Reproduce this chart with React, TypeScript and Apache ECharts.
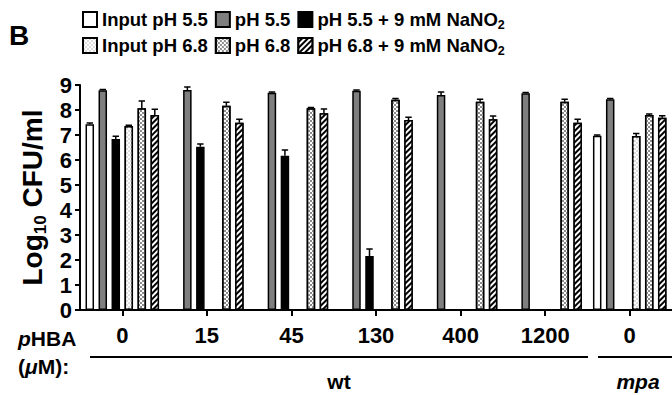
import React, { useEffect, useRef } from 'react';
import * as echarts from 'echarts';

const categories = ['0', '15', '45', '130', '400', '1200', '0'];
const seriesNames = [
  'Input pH 5.5',
  'pH 5.5',
  'pH 5.5 + 9 mM NaNO2',
  'Input pH 6.8',
  'pH 6.8',
  'pH 6.8 + 9 mM NaNO2',
];
const inputPh55 = [7.43, null, null, null, null, null, 6.97];
const ph55 = [8.79, 8.8, 8.69, 8.77, 8.6, 8.67, 8.43];
const ph55Nitrite = [6.84, 6.53, 6.17, 2.16, null, null, null];
const inputPh68 = [7.36, null, null, null, null, null, 6.96];
const ph68 = [8.07, 8.17, 8.07, 8.41, 8.33, 8.33, 7.8];
const ph68Nitrite = [7.8, 7.49, 7.87, 7.6, 7.63, 7.49, 7.69];

const inputPh55Err = [0.05, null, null, null, null, null, 0.03];
const ph55Err = [0.03, 0.12, 0.03, 0.03, 0.12, 0.03, 0.03];
const ph55NitriteErr = [0.11, 0.11, 0.23, 0.28, null, null, null];
const inputPh68Err = [0.03, null, null, null, null, null, 0.1];
const ph68Err = [0.29, 0.14, 0.03, 0.05, 0.1, 0.1, 0.04];
const ph68NitriteErr = [0.23, 0.14, 0.17, 0.11, 0.13, 0.14, 0.08];

const yMin = 0;
const yMax = 9;
const yInterval = 1;

const FONT = "'Liberation Sans', Arial, Helvetica, sans-serif";
const BAR_WIDTH = 8.5;
const BAR_GAP = 0.53;
const STEP = BAR_WIDTH * (1 + BAR_GAP);

const values = [inputPh55, ph55, ph55Nitrite, inputPh68, ph68, ph68Nitrite];
const errors = [inputPh55Err, ph55Err, ph55NitriteErr, inputPh68Err, ph68Err, ph68NitriteErr];

const styles: any[] = [
  { color: '#ffffff' },
  { color: '#7f7f7f' },
  { color: '#000000' },
  {
    color: '#ffffff',
    decal: {
      symbol: 'rect',
      symbolSize: 1,
      color: '#dddddd',
      dashArrayX: [[2, 2], [0, 2, 2, 0]],
      dashArrayY: [2, 0],
    },
  },
  {
    color: '#ffffff',
    decal: {
      symbol: 'rect',
      symbolSize: 1,
      color: '#8c8c8c',
      dashArrayX: [[2, 2], [0, 2, 2, 0]],
      dashArrayY: [2, 0],
    },
  },
  {
    color: '#000000',
    decal: {
      symbol: 'rect',
      symbolSize: 1,
      color: '#ffffff',
      dashArrayX: [1, 0],
      dashArrayY: [1.5, 2],
      rotation: -Math.PI / 4,
    },
  },
];

function makeRich(fs: number, sub: number, lh: number) {
  const base = { fontFamily: FONT, fontWeight: 'bold' as const, color: '#000', fontSize: fs };
  return {
    t: { ...base, lineHeight: lh, verticalAlign: 'middle' },
    s: { ...base, fontSize: sub, lineHeight: lh, verticalAlign: 'bottom' },
    i: { ...base, fontStyle: 'italic', lineHeight: lh, verticalAlign: 'middle' },
  };
}

const AX_FS = 22;
const LEG_FS = 18.5;
const axTxt = { fontFamily: FONT, fontWeight: 'bold' as const, color: '#000', fontSize: AX_FS };
const legendRich = makeRich(LEG_FS, 12.5, 24);
const titleRich = makeRich(28, 17, 32);
const labelRich = makeRich(21, 14, 26);

function legendFormatter(name: string) {
  if (name.endsWith('NaNO2')) return '{t|' + name.slice(0, -1) + '}{s|2}';
  return '{t|' + name + '}';
}

export default function App() {
  const ref = useRef<HTMLDivElement>(null);
  useEffect(() => {
    if (!ref.current) return;
    const chart = echarts.init(ref.current, null, { renderer: 'svg' });

    const errData: number[][] = [];
    values.forEach((vals, s) =>
      vals.forEach((v, i) => {
        const e = errors[s][i];
        if (v != null && e != null) errData.push([i, v as number, e as number, s]);
      })
    );

    const legendBase = {
      left: 77,
      itemWidth: 14,
      itemHeight: 15,
      itemGap: 7,
      icon: 'rect',
      selectedMode: false,
      formatter: legendFormatter,
      textStyle: { fontFamily: FONT, fontWeight: 'bold', fontSize: LEG_FS, color: '#000', rich: legendRich },
    };

    const option: any = {
      animation: false,
      backgroundColor: '#fff',
      grid: { left: 80, top: 85, width: 602, height: 225, containLabel: false },
      legend: [
        { ...legendBase, top: 5, data: seriesNames.slice(0, 3) },
        { ...legendBase, top: 31, data: seriesNames.slice(3) },
      ],
      xAxis: {
        type: 'category',
        data: categories,
        axisLine: { show: true, lineStyle: { color: '#000', width: 2 } },
        axisTick: { show: true, alignWithLabel: true, length: 6, lineStyle: { color: '#000', width: 2 } },
        axisLabel: { interval: 0, margin: 14, ...axTxt },
        splitLine: { show: false },
      },
      yAxis: {
        type: 'value',
        min: yMin,
        max: yMax,
        interval: yInterval,
        axisLine: { show: true, lineStyle: { color: '#000', width: 2 } },
        axisTick: { show: true, length: 5, lineStyle: { color: '#000', width: 2 } },
        axisLabel: { margin: 8, ...axTxt },
        splitLine: { show: false },
        name: '{t|Log}{s|10}{t| CFU/ml}',
        nameLocation: 'middle',
        nameRotate: 90,
        nameGap: 29,
        nameTextStyle: { fontFamily: FONT, fontWeight: 'bold', fontSize: 28, color: '#000', rich: titleRich },
      },
      series: [
        ...values.map((vals, s) => ({
          name: seriesNames[s],
          type: 'bar',
          data: vals,
          barWidth: BAR_WIDTH,
          barGap: BAR_GAP * 100 + '%',
          itemStyle: { ...styles[s], borderColor: '#000', borderWidth: 1.5 },
          emphasis: { disabled: true },
        })),
        {
          type: 'custom',
          z: 5,
          data: errData,
          encode: { x: 0, y: 1 },
          renderItem: (params: any, api: any) => {
            const i = api.value(0);
            const v = api.value(1);
            const e = api.value(2);
            const s = api.value(3);
            const p0 = api.coord([i, v]);
            const p1 = api.coord([i, v + e]);
            const x = p0[0] + (s - 2.5) * STEP;
            const st = { stroke: '#000', lineWidth: 1.5 };
            return {
              type: 'group',
              children: [
                { type: 'line', shape: { x1: x, y1: p0[1], x2: x, y2: p1[1] }, style: st },
                { type: 'line', shape: { x1: x - 3.2, y1: p1[1], x2: x + 3.2, y2: p1[1] }, style: st },
              ],
            };
          },
        },
      ],
      graphic: [
        { type: 'text', x: 9, y: 35, style: { text: 'B', fontFamily: FONT, fontWeight: 'bold', fontSize: 28, fill: '#000', verticalAlign: 'middle' } },
        { type: 'text', x: 18, y: 338, style: { text: '{i|p}{t|HBA}', rich: labelRich, verticalAlign: 'middle' } },
        { type: 'text', x: 18, y: 366, style: { text: '{t|(}{i|\u03bc}{t|M):}', rich: labelRich, verticalAlign: 'middle' } },
        { type: 'line', shape: { x1: 90, y1: 357, x2: 588, y2: 357 }, style: { stroke: '#000', lineWidth: 2 } },
        { type: 'line', shape: { x1: 598, y1: 357, x2: 680, y2: 357 }, style: { stroke: '#000', lineWidth: 2 } },
        { type: 'text', x: 339, y: 381, style: { text: '{t|wt}', rich: labelRich, align: 'center', verticalAlign: 'middle' } },
        { type: 'text', x: 638, y: 381, style: { text: '{i|mpa}', rich: labelRich, align: 'center', verticalAlign: 'middle' } },
      ],
    };
    chart.setOption(option);
    return () => chart.dispose();
  }, []);
  return <div ref={ref} style={{ width: 672, height: 395, position: 'absolute', left: 0, top: 0, overflow: 'hidden' }} />;
}
